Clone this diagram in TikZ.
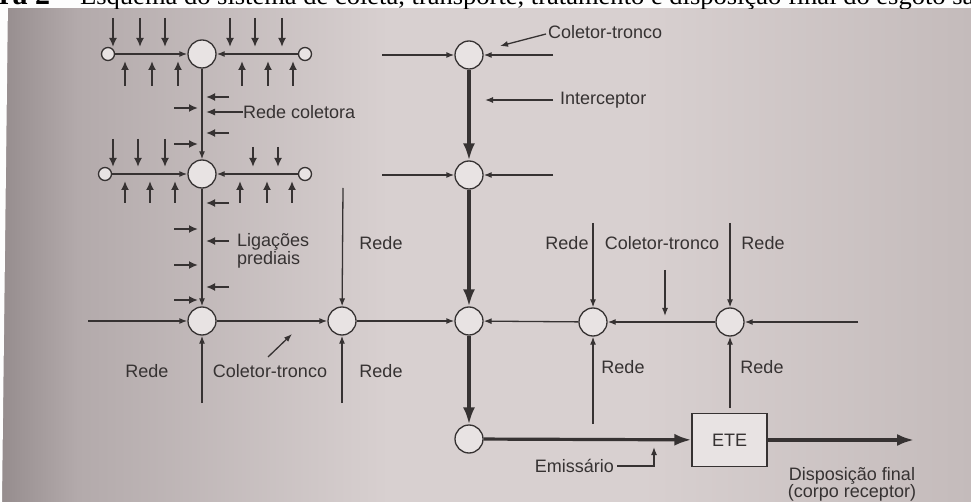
\documentclass[tikz,border=0pt]{standalone}
\usepackage{fontspec}
\setmainfont{Liberation Sans}
\newfontfamily\capfont{Liberation Serif}
\usetikzlibrary{arrows.meta}
\definecolor{ink}{HTML}{363232}
\definecolor{bgL}{HTML}{958C8D}
\definecolor{bgA}{HTML}{B3AAAB}
\definecolor{bgM}{HTML}{D8D0D0}
\definecolor{bgR}{HTML}{C4BBBB}
\definecolor{cfill}{HTML}{E8E3E3}
\pgfdeclarehorizontalshading{bgsh}{100bp}{color(0bp)=(bgL); color(25bp)=(bgL); color(29bp)=(bgA); color(45bp)=(bgM); color(58bp)=(bgM); color(75bp)=(bgR); color(100bp)=(bgR)}
\tikzset{
 pipe/.style={draw=ink, line width=1.3pt, -{Latex[length=8pt,width=6pt]}},
 pointer/.style={draw=ink, line width=1.3pt, -{Latex[length=9pt,width=7pt]}},
 lig/.style={draw=ink, line width=2.1pt, -{Latex[length=9pt,width=8pt]}},
 trunk/.style={draw=ink, line width=3.2pt, -{Latex[length=17pt,width=12pt]}},
 bigc/.style={circle, draw=ink, line width=1.3pt, fill=cfill, minimum size=28pt, inner sep=0},
 smallc/.style={circle, draw=ink, line width=1.3pt, fill=cfill, minimum size=13pt, inner sep=0},
 lbl/.style={text=ink, font=\fontsize{18}{18}\selectfont, inner sep=0},
 etebox/.style={draw=ink, line width=1.3pt, fill=cfill, minimum width=75pt, minimum height=53pt, inner sep=0, text=ink, font=\fontsize{18}{18}\selectfont},
}
\begin{document}
\begin{tikzpicture}[x=1pt,y=-1pt]
\useasboundingbox (0,0) rectangle (971,502);
\shade[shading=bgsh] (0,0) rectangle (971,502);
% white page margins of the photo
\fill[white!95!bgM] (0,0) rectangle (971,8.5);
\fill[white!95!bgM] (0,0) -- (8,0) -- (2,502) -- (0,502) -- cycle;
% clipped caption
\begin{scope}
\clip (0,0) rectangle (971,8.5);
\node[anchor=base west, inner sep=0, font=\capfont\fontsize{30}{30}\selectfont] (capA) at (-1,5) {\textbf{ra 2} –};
\node[anchor=base west, inner sep=0, font=\capfont\fontsize{25}{25}\selectfont] (capB) at (80,5) {\resizebox{894pt}{\height}{Esquema do sistema de coleta, transporte, tratamento e disposição final do esgoto sa}};
\end{scope}

% ---------- circles ----------
\node[smallc] (sL1) at (108,54) {};
\node[bigc]   (B1)  at (202,54) {};
\node[smallc] (sR1) at (305,54) {};
\node[smallc] (sL2) at (105,174) {};
\node[bigc]   (B2)  at (202,174) {};
\node[smallc] (sR2) at (305,174) {};
\node[bigc] (B3) at (202,321) {};
\node[bigc] (B4) at (342,321) {};
\node[bigc] (B5) at (469,321) {};
\node[bigc] (B6) at (593,322) {};
\node[bigc] (B7) at (730,322) {};
\node[bigc] (I1) at (469,55) {};
\node[bigc] (I2) at (469,175) {};
\node[bigc] (E)  at (469,439) {};
\node[etebox] (ETE) at (729.5,440) {ETE};

% ---------- branch row 1 ----------
\draw[pipe] (sL1) -- (B1);
\draw[pipe] (sR1) -- (B1);
\foreach \x in {113,140,165,230,255,282} \draw[lig] (\x,18) -- (\x,47);
\foreach \x in {125,152,178,242,268,293} \draw[lig] (\x,86) -- (\x,61);
% ---------- branch row 2 ----------
\draw[pipe] (sL2) -- (B2);
\draw[pipe] (sR2) -- (B2);
\foreach \x in {113,138,165} \draw[lig] (\x,139) -- (\x,167);
\foreach \x in {253,278} \draw[lig] (\x,147) -- (\x,167);
\foreach \x in {125,150,175,240,267,292} \draw[lig] (\x,203) -- (\x,181);

% ---------- rede coletora ----------
\draw[pipe] (B1) -- (B2);
\foreach \y in {97,133} \draw[lig] (229,\y) -- (206,\y);
\foreach \y in {108,144} \draw[lig] (174,\y) -- (198,\y);
\node[lbl, anchor=west] (lRC) at (243,112) {Rede coletora};
\draw[pointer] (lRC.west) -- (206,112);

\draw[pipe] (B2) -- (B3);
\foreach \y in {203,287} \draw[lig] (229,\y) -- (206,\y);
\foreach \y in {229,265,300} \draw[lig] (174,\y) -- (198,\y);
\node[lbl, anchor=west, align=left, font=\fontsize{18}{18.5}\selectfont] (lLP) at (237,251) {Ligações\\prediais};
\draw[lig] (229,241) -- (206,241);

% ---------- coletor-tronco (bottom left) ----------
\draw[pipe] (88,321) -- (B3);
\draw[pipe] (B3) -- (B4);
\draw[pipe] (B4) -- (B5);
\draw[pipe] (202,403) -- (B3);
\draw[pipe] (342,403) -- (B4);
\draw[pipe] (343,188) -- (B4);
\node[lbl] (lR1) at (147,371) {Rede};
\node[lbl] (lCT1) at (270,371) {Coletor-tronco};
\node[lbl] (lR2) at (381,371) {Rede};
\draw[pipe] (268,357) -- (292,334);
\node[lbl] (lR3) at (381,243) {Rede};

% ---------- interceptor ----------
\draw[pipe] (382,55) -- (I1);
\draw[pipe] (553,55) -- (I1);
\draw[pipe] (382,175) -- (I2);
\draw[pipe] (553,175) -- (I2);
\draw[trunk] (I1) -- (I2);
\draw[trunk] (I2) -- (B5);
\draw[trunk] (B5) -- (E);
\node[lbl, anchor=west] (lCT0) at (548,32) {Coletor-tronco};
\draw[pipe] (546,34) -- (500,46);
\node[lbl, anchor=west] (lInt) at (560,100) {Interceptor};
\draw[pipe] (553,100) -- (485,100);

% ---------- right network ----------
\draw[pipe] (B6) -- (B5);
\draw[pipe] (B7) -- (B6);
\draw[pipe] (858,322) -- (B7);
\draw[pipe] (593,223) -- (B6);
\draw[pipe] (730,223) -- (B7);
\draw[pipe] (665,270) -- (665,316);
\draw[pipe] (593,424) -- (B6);
\draw[pipe] (730,408) -- (B7);
\node[lbl] (lR4) at (567,243) {Rede};
\node[lbl] (lCT2) at (662,243) {Coletor-tronco};
\node[lbl] (lR5) at (763,243) {Rede};
\node[lbl] (lR6) at (623,367) {Rede};
\node[lbl] (lR7) at (762,367) {Rede};

% ---------- emissario / ETE ----------
\draw[trunk] (E) -- (ETE);
\coordinate (out) at (914,440);
\draw[trunk] (ETE) -- (out);
\node[lbl, anchor=east] (lEm) at (614,466) {Emissário};
\draw[pipe] (617,466) -- (654,466) -- (654,447);
\node[lbl, align=center, font=\fontsize{18}{17}\selectfont] (lDF) at (852,484) {Disposição final\\(corpo receptor)};
\end{tikzpicture}
\end{document}
